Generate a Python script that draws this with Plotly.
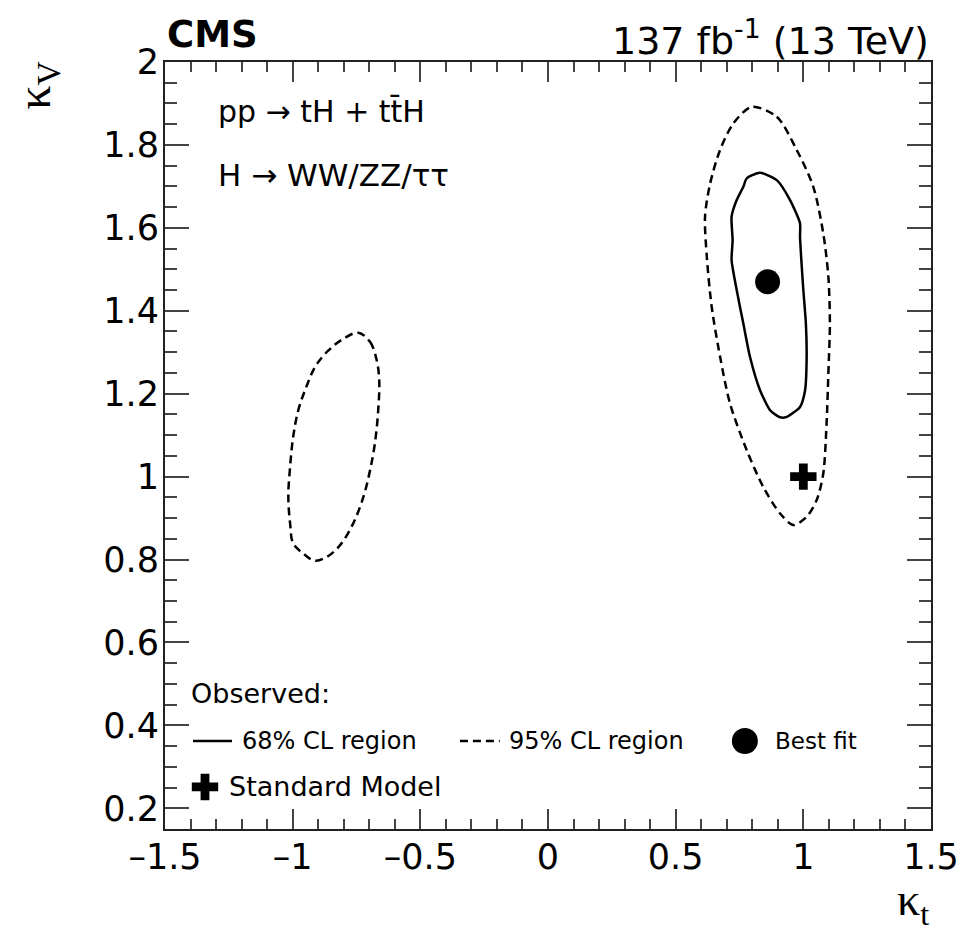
import plotly.graph_objects as go

# ---------------- data ----------------
# 68% CL observed contour (kappa_t, kappa_V)
cl68_kt = [0.830, 0.896, 0.948, 0.987, 0.987, 0.993, 1.000, 1.010, 1.013, 1.007, 0.987, 0.935, 0.909,
           0.870, 0.830, 0.791, 0.765, 0.739, 0.719, 0.723, 0.719, 0.739, 0.765, 0.778]
cl68_kv = [1.733, 1.715, 1.667, 1.611, 1.579, 1.514, 1.450, 1.369, 1.289, 1.209, 1.168, 1.144, 1.143,
           1.160, 1.209, 1.289, 1.369, 1.450, 1.522, 1.570, 1.627, 1.667, 1.699, 1.719]

# 95% CL observed contour, island around kappa_t > 0
cl95a_kt = [0.798, 0.896, 0.974, 1.039, 1.078, 1.098, 1.104, 1.098, 1.091, 1.078, 1.052, 1.013, 0.961,
            0.909, 0.843, 0.778, 0.713, 0.674, 0.641, 0.622, 0.615, 0.635, 0.674, 0.726]
cl95a_kv = [1.892, 1.868, 1.788, 1.699, 1.587, 1.482, 1.369, 1.249, 1.128, 1.007, 0.943, 0.903, 0.883,
            0.911, 0.975, 1.064, 1.176, 1.289, 1.410, 1.530, 1.627, 1.707, 1.788, 1.852]

# 95% CL observed contour, island around kappa_t < 0
cl95b_kt = [-0.743, -0.697, -0.671, -0.661, -0.665, -0.678, -0.697, -0.723, -0.763, -0.815, -0.867, -0.913,
            -0.958, -0.998, -1.010, -1.017, -1.010, -0.998, -0.978, -0.948, -0.912, -0.862, -0.805]
cl95b_kv = [1.347, 1.325, 1.281, 1.233, 1.160, 1.080, 1.015, 0.951, 0.887, 0.834, 0.806, 0.797,
            0.814, 0.839, 0.887, 0.951, 1.024, 1.096, 1.160, 1.214, 1.265, 1.303, 1.331]

best_fit_kt = [0.86]
best_fit_kv = [1.47]
sm_kt = [1.0]
sm_kv = [1.0]

x_tickvals = [-1.5, -1, -0.5, 0, 0.5, 1, 1.5]
x_ticktext = ["\u20131.5", "\u20131", "\u20130.5", "0", "0.5", "1", "1.5"]
y_tickvals = [0.2, 0.4, 0.6, 0.8, 1.0, 1.2, 1.4, 1.6, 1.8, 2.0]
y_ticktext = ["0.2", "0.4", "0.6", "0.8", "1", "1.2", "1.4", "1.6", "1.8", "2"]

legend_labels = ["68% CL region", "95% CL region", "Best fit", "Standard Model"]


def closed(a):
    return list(a) + [a[0]]


FONT = "DejaVu Sans"
SERIF = "Liberation Serif"
DASH = "8px,5px"

fig = go.Figure()

fig.add_trace(go.Scatter(x=closed(cl95a_kt), y=closed(cl95a_kv), mode="lines",
                         line=dict(color="black", width=2.5, dash=DASH, shape="spline", smoothing=0.8),
                         showlegend=False, hoverinfo="skip"))
fig.add_trace(go.Scatter(x=closed(cl95b_kt), y=closed(cl95b_kv), mode="lines",
                         line=dict(color="black", width=2.5, dash=DASH, shape="spline", smoothing=1.0),
                         showlegend=False, hoverinfo="skip"))
fig.add_trace(go.Scatter(x=closed(cl68_kt), y=closed(cl68_kv), mode="lines",
                         line=dict(color="black", width=2.5, shape="spline", smoothing=0.6),
                         showlegend=False, hoverinfo="skip"))
fig.add_trace(go.Scatter(x=best_fit_kt, y=best_fit_kv, mode="markers",
                         marker=dict(symbol="circle", size=25, color="black"),
                         showlegend=False))
fig.add_trace(go.Scatter(x=sm_kt, y=sm_kv, mode="markers",
                         marker=dict(symbol="cross", size=22, color="black"),
                         showlegend=False))

# ---- hand-made legend drawn on an invisible overlay axis (0..1 = plot frame) ----
leg_row1 = 0.1147
leg_row2 = 0.0548
fig.add_trace(go.Scatter(x=[0.0366, 0.0875], y=[leg_row1, leg_row1], mode="lines",
                         line=dict(color="black", width=2.5), xaxis="x2", yaxis="y2",
                         showlegend=False, hoverinfo="skip"))
fig.add_trace(go.Scatter(x=[0.385, 0.437], y=[leg_row1, leg_row1], mode="lines",
                         line=dict(color="black", width=2.5, dash=DASH), xaxis="x2", yaxis="y2",
                         showlegend=False, hoverinfo="skip"))
fig.add_trace(go.Scatter(x=[0.757], y=[leg_row1], mode="markers",
                         marker=dict(symbol="circle", size=26, color="black"), xaxis="x2", yaxis="y2",
                         showlegend=False, hoverinfo="skip"))
fig.add_trace(go.Scatter(x=[0.0522], y=[leg_row2], mode="markers",
                         marker=dict(symbol="cross", size=22, color="black"), xaxis="x2", yaxis="y2",
                         showlegend=False, hoverinfo="skip"))

annotations = [
    dict(text="<b>CMS</b>", x=0.0, y=1.036, xanchor="left", yanchor="middle",
         font=dict(family=FONT, size=37, color="black")),
    dict(text="137 fb<sup>-1</sup> (13 TeV)", x=1.0, y=1.031, xanchor="right", yanchor="middle",
         font=dict(family=FONT, size=38, color="black")),
    dict(text="pp \u2192 tH + tt\u0304H", x=0.066, y=0.935, xanchor="left", yanchor="middle",
         font=dict(family=FONT, size=30, color="black")),
    dict(text="H \u2192 WW/ZZ/\u03c4\u03c4", x=0.066, y=0.853, xanchor="left", yanchor="middle",
         font=dict(family=FONT, size=31, color="black")),
    dict(text="Observed:", x=0.031, y=0.177, xanchor="left", yanchor="middle",
         font=dict(family=FONT, size=27, color="black")),
    dict(text=legend_labels[0], x=0.0979, y=leg_row1, xanchor="left", yanchor="middle",
         font=dict(family=FONT, size=24, color="black")),
    dict(text=legend_labels[1], x=0.4465, y=leg_row1, xanchor="left", yanchor="middle",
         font=dict(family=FONT, size=24, color="black")),
    dict(text=legend_labels[2], x=0.794, y=leg_row1, xanchor="left", yanchor="middle",
         font=dict(family=FONT, size=23, color="black")),
    dict(text=legend_labels[3], x=0.081, y=leg_row2, xanchor="left", yanchor="middle",
         font=dict(family=FONT, size=27, color="black")),
    dict(text="\u03ba<sub>t</sub>", x=1.0, y=-0.097, xanchor="right", yanchor="middle",
         font=dict(family=SERIF, size=46, color="black")),
    dict(text="\u03ba<sub>V</sub>", x=-0.167, y=1.003, xanchor="center", yanchor="top",
         textangle=-90, font=dict(family=SERIF, size=48, color="black")),
]
for a in annotations:
    a.update(xref="paper", yref="paper", showarrow=False)

fig.update_layout(
    width=960, height=933,
    margin=dict(l=165, r=29, t=62, b=104),
    plot_bgcolor="white", paper_bgcolor="white",
    showlegend=False,
    annotations=annotations,
    xaxis=dict(range=[-1.5, 1.5], showgrid=False, zeroline=False, automargin=False,
               showline=True, linecolor="#222", linewidth=2, mirror="allticks",
               ticks="inside", ticklen=20, tickwidth=1.5, tickcolor="#444",
               tickmode="array", tickvals=x_tickvals, ticktext=x_ticktext,
               tickfont=dict(family=FONT, size=35, color="black"),
               ticklabelstandoff=-4,
               minor=dict(ticks="inside", ticklen=10, tickwidth=1.5, tickcolor="#444",
                          tickmode="linear", tick0=0, dtick=0.1)),
    yaxis=dict(range=[0.15, 2.0], showgrid=False, zeroline=False, automargin=False,
               showline=True, linecolor="#222", linewidth=2, mirror="allticks",
               ticks="inside", ticklen=24, tickwidth=1.5, tickcolor="#444",
               tickmode="array", tickvals=y_tickvals, ticktext=y_ticktext,
               tickfont=dict(family=FONT, size=35, color="black"),
               ticklabelstandoff=-3,
               minor=dict(ticks="inside", ticklen=12, tickwidth=1.5, tickcolor="#444",
                          tickmode="linear", tick0=0, dtick=0.05)),
    xaxis2=dict(range=[0, 1], overlaying="x", visible=False, fixedrange=True, automargin=False),
    yaxis2=dict(range=[0, 1], overlaying="y", visible=False, fixedrange=True, automargin=False),
)

fig.write_html("out.html")
